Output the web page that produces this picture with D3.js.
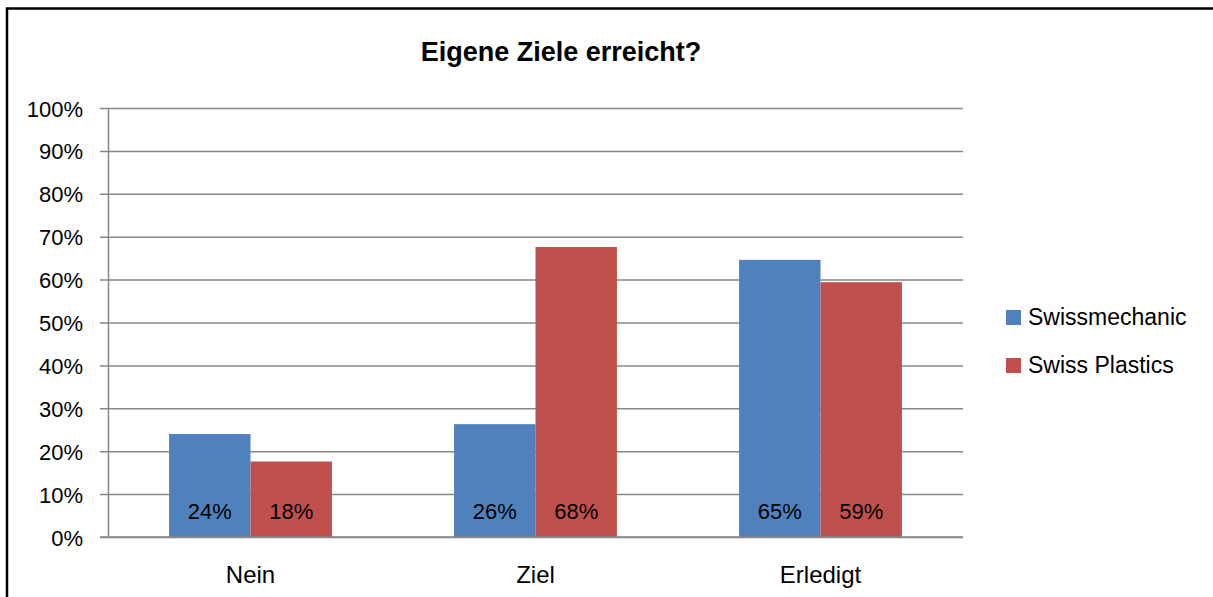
<!DOCTYPE html>
<html>
<head>
<meta charset="utf-8">
<script src="https://cdn.jsdelivr.net/npm/d3@7"></script>
<style>
  body { margin: 0; background: #fff; }
  text { font-family: "Liberation Sans", Arial, sans-serif; fill: #000; }
</style>
</head>
<body>
<div id="chart"></div>
<script>
// chart data
var categories = ["Nein", "Ziel", "Erledigt"];
var seriesNames = ["Swissmechanic", "Swiss Plastics"];
var swissmechanic = [24, 26.3, 64.6];
var swissPlastics = [17.6, 67.6, 59.4];
var valueLabels = [["24%", "26%", "65%"], ["18%", "68%", "59%"]];
var yTicks = [0, 10, 20, 30, 40, 50, 60, 70, 80, 90, 100];

var colors = ["#4F81BD", "#C0504D"];
var seriesValues = [swissmechanic, swissPlastics];

var Chart_Width = 1213;
var Chart_Height = 597;

var plot = { left: 108, right: 963, top: 108, bottom: 537 };

var svg = d3.select("#chart")
  .append("svg")
  .attr("width", Chart_Width)
  .attr("height", Chart_Height);

// outer frame of the chart, runs off the right and bottom edge
svg.append("rect")
  .attr("x", 7)
  .attr("y", 8.5)
  .attr("width", 1230)
  .attr("height", 620)
  .attr("fill", "none")
  .attr("stroke", "#000")
  .attr("stroke-width", 2.5);

// title
svg.append("text")
  .attr("x", 561)
  .attr("y", 61)
  .attr("text-anchor", "middle")
  .attr("font-size", "27px")
  .attr("font-weight", "bold")
  .text("Eigene Ziele erreicht?");

// scales
var yScale = d3.scaleLinear()
  .domain([0, 100])
  .range([plot.bottom, plot.top]);

var x0 = d3.scaleBand()
  .domain(categories)
  .range([plot.left, plot.right])
  .padding(0);

var x1 = d3.scaleBand()
  .domain(seriesNames)
  .range([0, x0.bandwidth()])
  .paddingInner(0)
  .paddingOuter(0.75);

// gridlines + y axis
var yAxis = d3.axisLeft(yScale)
  .tickValues(yTicks)
  .tickSize(-(plot.right - plot.left))
  .tickSizeOuter(0)
  .tickFormat(d => d + "%");

var yAxisG = svg.append("g")
  .attr("transform", `translate(${plot.left}, 0)`)
  .call(yAxis);

yAxisG.select(".domain")
  .attr("stroke", "#878787")
  .attr("stroke-width", 1.5);

yAxisG.selectAll(".tick line")
  .attr("x1", -8)
  .attr("stroke", "#878787")
  .attr("stroke-width", 1.5);

yAxisG.selectAll(".tick text")
  .attr("x", -25)
  .attr("dy", null)
  .attr("y", 8)
  .attr("font-size", "22px")
  .attr("font-family", "Liberation Sans, Arial, sans-serif")
  .attr("fill", "#000");

// bars
var barGroups = svg.append("g")
  .selectAll("g")
  .data(seriesNames)
  .enter()
  .append("g")
  .attr("fill", (d, i) => colors[i]);

barGroups.selectAll("rect")
  .data((s, i) => seriesValues[i].map((v, j) => ({ cat: categories[j], series: s, value: v })))
  .enter()
  .append("rect")
  .attr("x", d => x0(d.cat) + x1(d.series))
  .attr("y", d => yScale(d.value))
  .attr("width", x1.bandwidth())
  .attr("height", d => yScale(0) - yScale(d.value));

// value labels inside the bars near the base
barGroups.selectAll("text")
  .data((s, i) => categories.map((c, j) => ({ cat: c, series: s, label: valueLabels[i][j] })))
  .enter()
  .append("text")
  .attr("x", d => x0(d.cat) + x1(d.series) + x1.bandwidth() / 2)
  .attr("y", plot.bottom - 18)
  .attr("text-anchor", "middle")
  .attr("font-size", "22px")
  .style("fill", "#000")
  .text(d => d.label);

// baseline on top of bars
svg.append("line")
  .attr("x1", plot.left - 8)
  .attr("x2", plot.right)
  .attr("y1", yScale(0))
  .attr("y2", yScale(0))
  .attr("stroke", "#878787")
  .attr("stroke-width", 1.5);

// category labels
svg.append("g")
  .selectAll("text")
  .data(categories)
  .enter()
  .append("text")
  .attr("x", d => x0(d) + x0.bandwidth() / 2)
  .attr("y", 583)
  .attr("text-anchor", "middle")
  .attr("font-size", "24px")
  .text(d => d);

// legend
var legend = svg.append("g")
  .selectAll("g")
  .data(seriesNames)
  .enter()
  .append("g")
  .attr("transform", (d, i) => `translate(1006, ${310 + i * 48})`);

legend.append("rect")
  .attr("width", 15)
  .attr("height", 15)
  .attr("fill", (d, i) => colors[i]);

legend.append("text")
  .attr("x", 22)
  .attr("y", 15)
  .attr("font-size", "23px")
  .text(d => d);
</script>
</body>
</html>
